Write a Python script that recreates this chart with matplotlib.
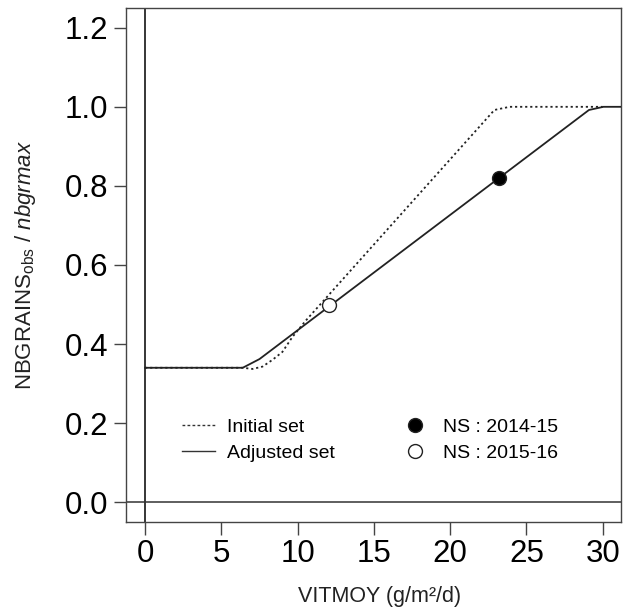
import matplotlib
matplotlib.use("Agg")
import matplotlib.pyplot as plt
from matplotlib.lines import Line2D

plt.rcParams['font.family'] = ['Liberation Sans', 'DejaVu Sans']
plt.rcParams['mathtext.fontset'] = 'custom'
plt.rcParams['mathtext.rm'] = 'Liberation Sans'
plt.rcParams['mathtext.it'] = 'Liberation Sans:italic'

# Response curves of the grain-number ratio to mean growth rate
initial_x = [0, 6.4, 7.05, 7.7, 8.35, 9.0, 9.66, 10.55, 22.9, 23.9, 30.0]
initial_y = [0.34, 0.34, 0.337, 0.343, 0.36, 0.38, 0.418, 0.46, 0.992, 1.0, 1.0]
adjusted_x = [0, 6.4, 7.5, 29.1, 30.05, 32.0]
adjusted_y = [0.34, 0.34, 0.362, 0.992, 1.0, 1.0]

# Observed points
obs_x = [23.2, 12.07]
obs_y = [0.82, 0.50]
obs_labels = ["NS : 2014-15", "NS : 2015-16"]
obs_fill = ["black", "white"]

xticks = [0, 5, 10, 15, 20, 25, 30]
yticks = [0.0, 0.2, 0.4, 0.6, 0.8, 1.0, 1.2]

fig = plt.figure(figsize=(6.41, 6.13), dpi=100)
ax = fig.add_axes([0.1966, 0.1485, 0.7722, 0.8385])

ax.axvline(0, color="black", lw=1.1, zorder=1)
ax.axhline(0, color="#333333", lw=1.1, zorder=1)

ax.plot(initial_x, initial_y, color="#222222", lw=1.3, ls=(0, (1.2, 1.6)), zorder=2)
ax.plot(adjusted_x, adjusted_y, color="#222222", lw=1.3, ls="-", zorder=3)

for x, y, fc in zip(obs_x, obs_y, obs_fill):
    ax.plot([x], [y], marker="o", ms=10, mfc=fc, mec="#222222", mew=1.0, ls="none", zorder=4)

ax.set_xlim(-1.25, 31.2)
ax.set_ylim(-0.05, 1.25)
ax.set_xticks(xticks)
ax.set_xticklabels([str(t) for t in xticks])
ax.set_yticks(yticks)
ax.set_yticklabels([f"{t:.1f}" for t in yticks])
ax.tick_params(axis="both", labelsize=22.5, length=9, width=1.0, color="#444444")
ax.tick_params(axis="y", pad=4)
ax.tick_params(axis="x", pad=3)
for s in ax.spines.values():
    s.set_color("#444444")
    s.set_linewidth(1.0)

ax.set_xlabel("VITMOY (g/m²/d)", fontsize=15.5, color="#222222")
ax.xaxis.set_label_coords(0.512, -0.125)
ax.set_ylabel(r"NBGRAINS$_{\mathrm{obs}}$ / $\it{nbgrmax}$", fontsize=16, color="#222222", labelpad=19)

# Legends for the two curves and the two observations
line_handles = [Line2D([], [], color="#333333", lw=1.0, ls=(0, (2, 1.6))),
                Line2D([], [], color="#333333", lw=1.0, ls="-")]
leg1 = ax.legend(line_handles, ["Initial set", "Adjusted set"], loc="upper left",
                 bbox_to_anchor=(0.078, 0.235), frameon=False, fontsize=14,
                 handlelength=1.7, handletextpad=0.6, labelspacing=0.4)
ax.add_artist(leg1)
pt_handles = [Line2D([], [], marker="o", ms=10, mfc=fc, mec="#222222", mew=1.0, ls="none")
              for fc in obs_fill]
ax.legend(pt_handles, obs_labels, loc="upper left", bbox_to_anchor=(0.521, 0.235),
          frameon=False, fontsize=14, handlelength=1.4, handletextpad=0.74, labelspacing=0.4)

fig.savefig("out.png", dpi=100)
